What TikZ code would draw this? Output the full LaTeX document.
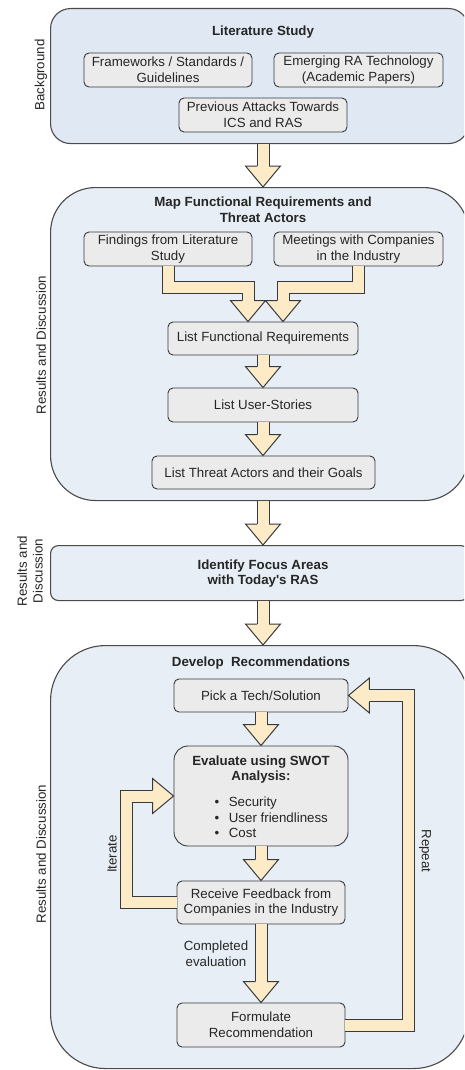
\documentclass[tikz,border=0pt]{standalone}
\usepackage{fontspec}
\setmainfont{Liberation Sans}
\usetikzlibrary{calc}
\definecolor{contfillA}{HTML}{DFE8F3}
\definecolor{contfill}{HTML}{E8EEF5}
\definecolor{contline}{HTML}{4A4A4A}
\definecolor{boxfill}{HTML}{EBEBEB}
\definecolor{boxline}{HTML}{36393D}
\definecolor{arrowfill}{HTML}{FDEBC8}
\definecolor{arrowline}{HTML}{36393D}
\definecolor{txt}{HTML}{262626}
\newcommand{\fs}{\fontsize{13.3pt}{15.6pt}\selectfont}
\newcommand{\fxhead}[2]{%
  \begin{scope}[shift={#1}, rotate=#2]
    \filldraw[headsty] (-21,6) -- (-21,17.5) -- (0,0) -- (-21,-17.5) -- (-21,-6);
  \end{scope}}
\begin{document}
\begin{tikzpicture}[x=1pt,y=-1pt,
  every node/.style={font=\fs, text=txt},
  cont/.style={draw=contline, line width=1.1pt, fill=contfill, anchor=north west, minimum width=418pt, inner sep=0pt},
  box/.style={draw=boxline, fill=boxfill, line width=0.9pt, rounded corners=5pt, align=center, inner sep=0pt},
  ttl/.style={font=\fs\bfseries, align=center, inner sep=0pt},
  lbl/.style={align=center, inner sep=0pt},
  shaft/.style={draw=arrowline, line width=1pt, double=arrowfill, double distance=11pt, line join=miter},
  headsty/.style={draw=arrowline, fill=arrowfill, line width=1pt, line join=miter}]
\clip (0,0) rectangle (464,1070);
\fill[white] (0,0) rectangle (464,1070);

% containers
\node[cont, fill=contfillA, rounded corners=20pt, minimum height=135pt] (c1) at (50,8) {};
\node[cont, rounded corners=45pt, minimum height=313pt] (c2) at (50,187) {};
\node[cont, rounded corners=8pt, minimum height=55pt] (c3) at (50,545) {};
\node[cont, rounded corners=55pt, minimum height=423pt] (c4) at (50,645) {};

% titles
\node[ttl] (t1) at (263,32) {Literature Study};
\node[ttl] (t2) at (263,210) {Map Functional Requirements and\\Threat Actors};
\node[ttl] (t3) at (263,573.5) {Identify Focus Areas\\with Today\textquotesingle s RAS};
\node[ttl] (t4) at (261,663) {Develop\ \ Recommendations};

% side labels
\node[lbl, rotate=90] (s1) at (41,75) {Background};
\node[lbl, rotate=90] (s2) at (41,345) {Results and Discussion};
\node[lbl, rotate=90] (s3) at (30,571) {Results and\\Discussion};
\node[lbl, rotate=90] (s4) at (41,854) {Results and Discussion};

% boxes
\node[box, minimum width=168pt, minimum height=34pt] (fw) at (168,70) {Frameworks / Standards /\\Guidelines};
\node[box, minimum width=169pt, minimum height=34pt] (em) at (358.5,70) {Emerging RA Technology\\(Academic Papers)};
\node[box, minimum width=168pt, minimum height=34pt] (pa) at (263,115) {Previous Attacks Towards\\ICS and RAS};
\node[box, minimum width=168pt, minimum height=34pt] (fi) at (168,249) {Findings from Literature\\Study};
\node[box, minimum width=169pt, minimum height=34pt] (me) at (358.5,249) {Meetings with Companies\\in the Industry};
\node[box, minimum width=190pt, minimum height=33pt] (lfr) at (263,338.5) {List Functional Requirements};
\node[box, minimum width=190pt, minimum height=34pt] (lus) at (263,405) {List User-Stories};
\node[box, minimum width=223pt, minimum height=33pt] (lta) at (263.5,472.5) {List Threat Actors and their Goals};
\node[box, minimum width=174pt, minimum height=33pt] (pick) at (261,695.5) {Pick a Tech/Solution};
\node[box, rounded corners=14pt, minimum width=174pt, minimum height=100pt] (eval) at (261,796) {};
\node[ttl] (evt) at (261,769.5) {Evaluate using SWOT\\Analysis:};
\node[lbl, align=left, anchor=west] (evl) at (214.5,817.5) {\textbullet\hspace{9.5pt}Security\\\textbullet\hspace{9.5pt}User friendliness\\\textbullet\hspace{9.5pt}Cost};
\node[box, minimum width=168pt, minimum height=43pt] (recv) at (261,902.5) {Receive Feedback from\\Companies in the Industry};
\node[box, minimum width=168pt, minimum height=44pt] (form) at (261,1025) {Formulate\\Recommendation};

% arrows
\draw[shaft] (pa.south |- c1.south) -- ($(pa.south |- c2.north)+(0,-21)$);
\fxhead{($(pa.south |- c2.north)$)}{-90}
\draw[shaft] (lus.south |- c2.south) -- ($(lus.south |- c3.north)+(0,-21)$);
\fxhead{($(lus.south |- c3.north)$)}{-90}
\draw[shaft] (lus.south |- c3.south) -- ($(lus.south |- c4.north)+(0,-21)$);
\fxhead{($(lus.south |- c4.north)$)}{-90}

\draw[shaft] (fi.south) |- ($(lfr.north)+(-15,-34)$) -- ($(lfr.north)+(-15,-21)$);
\fxhead{($(lfr.north)+(-15,0)$)}{-90}
\draw[shaft] (me.south) |- ($(lfr.north)+(20,-34)$) -- ($(lfr.north)+(20,-21)$);
\fxhead{($(lfr.north)+(20,0)$)}{-90}

\draw[shaft] (lfr.south) -- ($(lus.north)+(0,-21)$);
\fxhead{(lus.north)}{-90}
\draw[shaft] (lus.south) -- ($(lus.south |- lta.north)+(0,-21)$);
\fxhead{($(lus.south |- lta.north)$)}{-90}

\draw[shaft] (pick.south) -- ($(eval.north)+(0,-21)$);
\fxhead{(eval.north)}{-90}
\draw[shaft] (eval.south) -- ($(recv.north)+(0,-21)$);
\fxhead{(recv.north)}{-90}
\draw[shaft] (recv.south) -- ($(form.north)+(0,-21)$);
\fxhead{(form.north)}{-90}

\draw[shaft] (form.east) -| ($(pick.east)+(60.5,0)$) -- ($(pick.east)+(21,0)$);
\fxhead{(pick.east)}{180}
\draw[shaft] (recv.west) -| ($(eval.west)+(-47,0)$) -- ($(eval.west)+(-21,0)$);
\fxhead{(eval.west)}{0}

% arrow labels
\node[lbl] (cmp) at (216,953.5) {Completed\\evaluation};
\node[lbl, rotate=-90] (rep) at (425,851) {Repeat};
\node[lbl, rotate=90] (itr) at (112,854) {Iterate};
\end{tikzpicture}
\end{document}
